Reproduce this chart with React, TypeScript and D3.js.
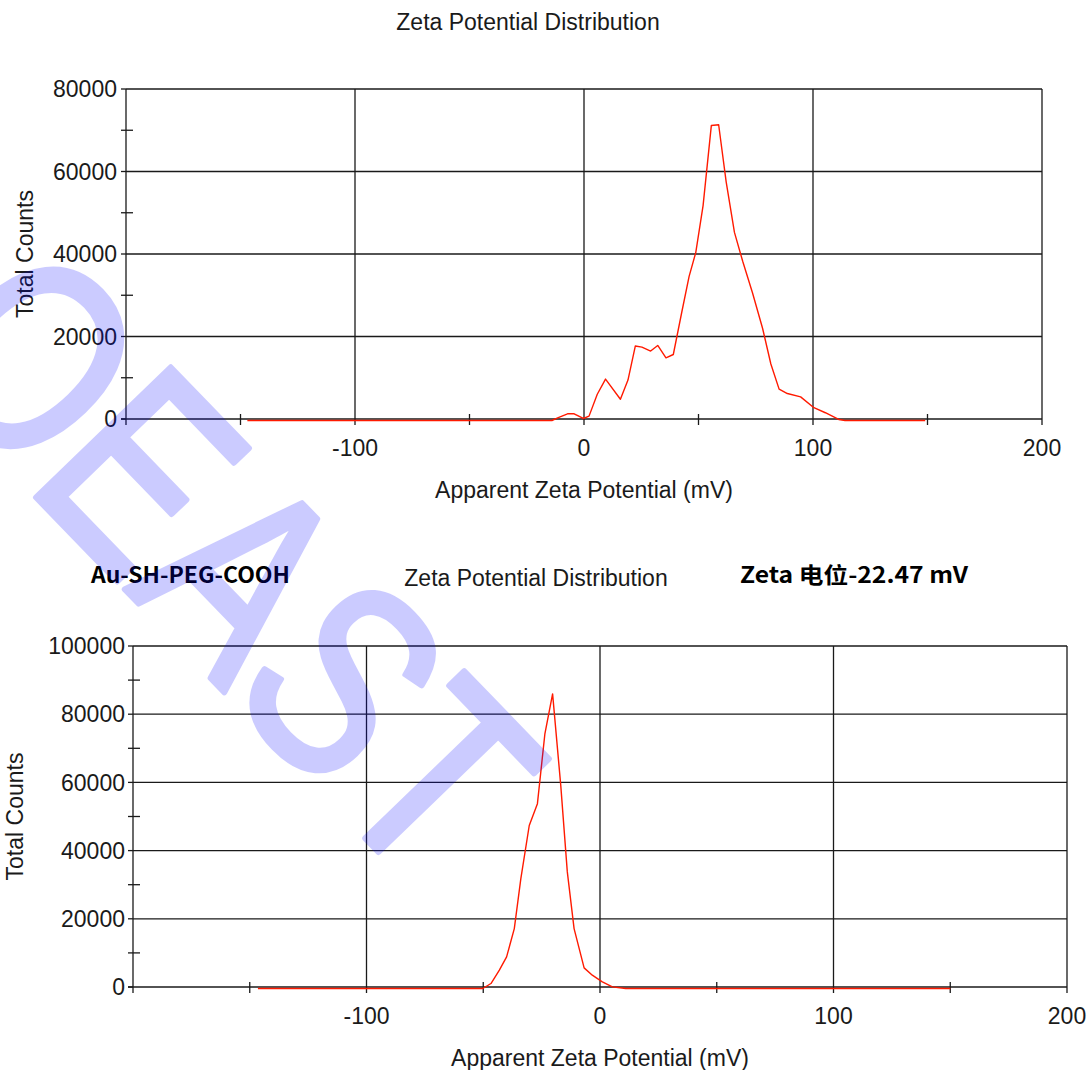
import React from "react";
import * as d3 from "d3";

// ---------- data ----------
const chartTitle = "Zeta Potential Distribution";
const xAxisTitle = "Apparent Zeta Potential (mV)";
const yAxisTitle = "Total Counts";
const sampleLabel = "Au-SH-PEG-COOH";
const zetaLabel = "Zeta 电位-22.47 mV";
const watermarkText = "OEAST";

const xMajorTicks = [-100, 0, 100, 200];
const xMinorTicks = [-150, -50, 50, 150];

const topYTicks = [0, 20000, 40000, 60000, 80000];
const topYMinor = [10000, 30000, 50000, 70000];
const topMV = [-147, -14, -11.5, -7.2, -4.3, -0.3, 2.2, 5.8, 9.4, 15.9, 19.2, 22.4, 25.3, 29.1, 32.2, 35.8, 39.0, 42.6, 45.9, 48.8, 52.0, 55.6, 58.8, 62.1, 65.7, 69.3, 73.6, 78.0, 81.6, 85.2, 88.8, 94.6, 100.4, 105.4, 111.2, 114, 149];
const topCounts = [0, 0, 650, 1630, 1630, 490, 1060, 6370, 10050, 5150, 9800, 18050, 17800, 16830, 18200, 15200, 16000, 26000, 34950, 40700, 52100, 71500, 71700, 57800, 45600, 38600, 30900, 22300, 13700, 7600, 6540, 5720, 3100, 1880, 250, 0, 0];

const botYTicks = [0, 20000, 40000, 60000, 80000, 100000];
const botYMinor = [10000, 30000, 50000, 70000, 90000];
const botMV = [-146.5, -50.2, -46.7, -43.1, -40.0, -36.7, -33.9, -30.3, -26.8, -23.6, -20.3, -16.8, -14.0, -11.1, -6.8, -3.3, 1.0, 5.3, 11, 150];
const botCounts = [0, 0, 1460, 5370, 9270, 17570, 32200, 47800, 54200, 74700, 86400, 59500, 34200, 17570, 6050, 3900, 1950, 490, 0, 0];

const FONT = "'Liberation Sans', Arial, sans-serif";
const BOLD_FONT = "'Noto Sans CJK SC', 'Noto Sans', sans-serif";
const INK = "#1a1a1a";

type PanelProps = {
  x0: number; x1: number; y0: number; y1: number;
  yMax: number; yTicks: number[]; yMinor: number[];
  xs: number[]; ys: number[];
  titleX: number; titleY: number;
  yLabelGap: number; yTitleX: number;
  minorIn: number; minorOut: number;
};

function Panel(p: PanelProps) {
  const x = d3.scaleLinear().domain([-200, 200]).range([p.x0, p.x1]);
  const y = d3.scaleLinear().domain([0, p.yMax]).range([p.y0, p.y1]);
  const pts = p.xs.map((v, i) => [v, p.ys[i]] as [number, number]);
  const line = d3.line<[number, number]>().x(d => x(d[0])).y(d => y(d[1]));
  const zeroY = y(0);
  return (
    <g>
      <text x={p.titleX} y={p.titleY} dy="0.35em" textAnchor="middle" fontFamily={FONT} fontSize={23} fill={INK}>{chartTitle}</text>
      {p.yTicks.filter(t => t > 0).map(t => (
        <line key={"hg" + t} x1={p.x0} x2={p.x1} y1={y(t)} y2={y(t)} stroke={INK} strokeWidth={1.3} />
      ))}
      {xMajorTicks.map(t => (
        <line key={"vg" + t} x1={x(t)} x2={x(t)} y1={p.y1} y2={zeroY + 6} stroke={INK} strokeWidth={1.3} />
      ))}
      <line x1={p.x0} x2={p.x0} y1={p.y1} y2={zeroY + 6} stroke={INK} strokeWidth={1.3} />
      <line x1={p.x0 - 5} x2={p.x1} y1={zeroY} y2={zeroY} stroke={INK} strokeWidth={1.5} />
      {p.yTicks.map(t => (
        <line key={"yt" + t} x1={p.x0 - 5} x2={p.x0} y1={y(t)} y2={y(t)} stroke={INK} strokeWidth={1.3} />
      ))}
      {p.yMinor.map(t => (
        <line key={"ym" + t} x1={p.x0 - p.minorOut} x2={p.x0 + p.minorIn} y1={y(t)} y2={y(t)} stroke={INK} strokeWidth={1.3} />
      ))}
      {xMinorTicks.map(t => (
        <line key={"xm" + t} x1={x(t)} x2={x(t)} y1={zeroY - 5} y2={zeroY + 6} stroke={INK} strokeWidth={1.3} />
      ))}
      {p.yTicks.map(t => (
        <text key={"yl" + t} x={p.x0 - p.yLabelGap} y={y(t)} dy="0.36em" textAnchor="end" fontFamily={FONT} fontSize={23} fill={INK}>{t}</text>
      ))}
      {xMajorTicks.map(t => (
        <text key={"xl" + t} x={x(t)} y={zeroY + 29} dy="0.36em" textAnchor="middle" fontFamily={FONT} fontSize={23} fill={INK}>{t}</text>
      ))}
      <text x={x(0)} y={zeroY + 71} dy="0.36em" textAnchor="middle" fontFamily={FONT} fontSize={23} fill={INK}>{xAxisTitle}</text>
      <text transform={`translate(${p.yTitleX},${(p.y0 + p.y1) / 2}) rotate(-90)`} dy="0.36em" textAnchor="middle" fontFamily={FONT} fontSize={23} fill={INK}>{yAxisTitle}</text>
      <path d={line(pts) || ""} transform="translate(0,1.5)" fill="none" stroke="#ff1a00" strokeWidth={1.4} strokeLinejoin="round" />
    </g>
  );
}

export default function App() {
  return (
    <svg width={1090} height={1070} style={{ position: "absolute", left: 0, top: 0, display: "block", background: "#fff" }}>
      <rect x={0} y={0} width={1090} height={1070} fill="#fff" />
      <Panel x0={126} x1={1042} y0={419} y1={89} yMax={80000} yTicks={topYTicks} yMinor={topYMinor}
        xs={topMV} ys={topCounts} titleX={528} titleY={22} yLabelGap={9} yTitleX={25} minorIn={7} minorOut={5} />
      <Panel x0={133} x1={1067} y0={987} y1={646} yMax={100000} yTicks={botYTicks} yMinor={botYMinor}
        xs={botMV} ys={botCounts} titleX={536} titleY={578} yLabelGap={8} yTitleX={15} minorIn={7} minorOut={5} />
      <text x={91} y={583} fontFamily={BOLD_FONT} fontWeight={700} fontSize={22} fill="#000" textLength={199} lengthAdjust="spacingAndGlyphs">{sampleLabel}</text>
      <text x={740} y={583} fontFamily={BOLD_FONT} fontWeight={700} fontSize={22} fill="#000" textLength={228} lengthAdjust="spacingAndGlyphs">{zetaLabel}</text>
      {/* watermark */}
      <g opacity={0.2} style={{ pointerEvents: "none" }}>
        <g transform="translate(232,560) rotate(46) scale(0.8,1)">
          <text textAnchor="middle" dy="0.358em" fontFamily={FONT} fontSize={272} fill="#0000ff" stroke="#0000ff" strokeWidth={6} strokeLinejoin="round">{watermarkText}</text>
        </g>
      </g>
    </svg>
  );
}
